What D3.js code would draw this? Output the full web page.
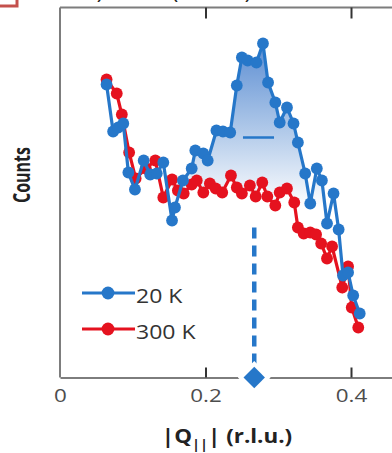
<!DOCTYPE html>
<html><head><meta charset="utf-8">
<script src="https://cdn.jsdelivr.net/npm/d3@7"></script>
<style>body{margin:0;background:#fff}svg{display:block}</style>
</head><body>
<svg id="chart" width="392" height="453"></svg>
<script>
// |Q_par| in r.l.u. and counts (arb. units) for the 20 K scan
const q20 = [0.064,0.073,0.080,0.087,0.094,0.103,0.115,0.124,0.133,0.142,0.154,0.158,0.169,0.181,0.186,0.197,0.203,0.215,0.224,0.234,0.243,0.250,0.258,0.270,0.279,0.286,0.296,0.302,0.312,0.321,0.327,0.337,0.344,0.353,0.360,0.367,0.376,0.383,0.389,0.396,0.403,0.412];
const c20 = [293,246,250,254,205,188,217,203,204,215,157,170,197,209,227,224,217,247,246,245,292,320,317,315,334,295,275,255,270,254,235,204,174,209,197,154,184,148,102,105,82,64];
// 300 K scan
const q300 = [0.064,0.078,0.085,0.095,0.104,0.118,0.131,0.142,0.154,0.162,0.170,0.181,0.188,0.197,0.206,0.214,0.223,0.235,0.243,0.250,0.261,0.269,0.278,0.285,0.296,0.302,0.312,0.322,0.327,0.335,0.344,0.352,0.359,0.367,0.374,0.388,0.396,0.401,0.410];
const c300 = [298,284,263,225,199,209,217,180,198,187,184,193,197,185,194,189,185,202,190,184,192,181,195,181,172,185,189,175,150,144,145,143,134,119,131,90,111,70,50];

const seriesNames = ["20 K", "300 K"];
const seriesColors = ["#2677c9", "#e5121f"];
const xTicks = [0, 0.2, 0.4];
const xTickLabels = ["0", "0.2", "0.4"];
const peakQ = 0.267;          // peak position (diamond + dashed line)
const peakLineTop = 150;      // counts where the dashed guide starts
const fwhmRange = [0.2515, 0.2942];
const fwhmLevel = 240;

const svg = d3.select("#chart");
const x = d3.scaleLinear().domain([0, 0.46]).range([60, 60 + 0.46 * 727.5]);
const y = d3.scaleLinear().domain([0, 370]).range([377.5, 7.5]);

const s20 = q20.map((q, i) => [q, c20[i]]);
const s300 = q300.map((q, i) => [q, c300[i]]);

// corner of neighbouring panel label box and the title line above the panel
svg.append("rect").attr("x", -20).attr("y", -20).attr("width", 37).attr("height", 26)
  .attr("fill", "none").attr("stroke", "#c4504c").attr("stroke-width", 3);
[[100, ")"], [175, "("], [248, ")"]].forEach(([px, t]) => {
  svg.append("text").attr("x", px).attr("y", -1).attr("font-family", "Open Sans")
    .attr("font-size", 22).attr("fill", "#222").attr("text-anchor", "middle").text(t);
});

// gradient between the two curves
const defs = svg.append("defs");
const grad = defs.append("linearGradient").attr("id", "gapFill")
  .attr("gradientUnits", "userSpaceOnUse").attr("x1", 0).attr("x2", 0)
  .attr("y1", y(335)).attr("y2", y(170));
grad.append("stop").attr("offset", 0).attr("stop-color", "#5b8dd2");
grad.append("stop").attr("offset", 0.55).attr("stop-color", "#b3cbea");
grad.append("stop").attr("offset", 1).attr("stop-color", "#ffffff");

const lo = 0.150, hi = 0.392;
const poly = s20.filter(d => d[0] >= lo && d[0] <= hi)
  .concat(s300.filter(d => d[0] >= lo && d[0] <= hi).reverse());
const line = d3.line().x(d => x(d[0])).y(d => y(d[1]));
svg.append("path").attr("d", line(poly) + "Z").attr("fill", "url(#gapFill)");

// frame
const frame = svg.append("g").attr("stroke", "#7d7d7d").attr("stroke-width", 2).attr("fill", "none");
frame.append("line").attr("x1", x(0)).attr("x2", x(0)).attr("y1", y(370)).attr("y2", y(0));
frame.append("line").attr("x1", x(0)).attr("x2", x(0.46)).attr("y1", y(370)).attr("y2", y(370));

const bottomAxis = svg.append("g").attr("transform", `translate(0,${y(0)})`)
  .call(d3.axisBottom(x).tickValues(xTicks).tickFormat((d, i) => xTickLabels[i]).tickSize(0).tickPadding(11));
bottomAxis.select(".domain").attr("stroke", "#7d7d7d").attr("stroke-width", 2);
bottomAxis.selectAll("text").attr("font-family", "Open Sans").attr("font-size", 19).attr("fill", "#4d4d4d")
  .attr("transform", "scale(1.18,1)");
bottomAxis.selectAll(".tick").each(function (d) {
  if (d > 0) d3.select(this).append("line").attr("y1", 0).attr("y2", -10)
    .attr("stroke", "#333").attr("stroke-width", 2);
});
const topAxis = svg.append("g").attr("transform", `translate(0,${y(370)})`)
  .call(d3.axisTop(x).tickValues([0.2, 0.4]).tickFormat("").tickSize(-11));
topAxis.select(".domain").remove();
topAxis.selectAll("line").attr("stroke", "#333").attr("stroke-width", 2);

// dashed peak guide and FWHM bar
svg.append("line").attr("x1", x(peakQ)).attr("x2", x(peakQ)).attr("y1", y(peakLineTop)).attr("y2", y(0) - 8)
  .attr("stroke", seriesColors[0]).attr("stroke-width", 4.5).attr("stroke-dasharray", "11,7");
svg.append("path").attr("d", d3.symbol(d3.symbolSquare, 230)())
  .attr("transform", `translate(${x(peakQ)},${y(0)}) rotate(45)`)
  .attr("fill", seriesColors[0]).attr("stroke", "#fff").attr("stroke-width", 8).attr("paint-order", "stroke");
svg.append("line").attr("x1", x(fwhmRange[0])).attr("x2", x(fwhmRange[1]))
  .attr("y1", y(fwhmLevel)).attr("y2", y(fwhmLevel))
  .attr("stroke", seriesColors[0]).attr("stroke-width", 2.5);

// data series: 300 K underneath, 20 K on top
[[s300, seriesColors[1]], [s20, seriesColors[0]]].forEach(([data, col]) => {
  svg.append("path").attr("d", line(data)).attr("fill", "none").attr("stroke", col).attr("stroke-width", 3.2);
  svg.append("g").selectAll("circle").data(data).join("circle")
    .attr("cx", d => x(d[0])).attr("cy", d => y(d[1])).attr("r", 5.9).attr("fill", col);
});

// legend
seriesNames.forEach((name, i) => {
  const ly = 293 + i * 36;
  const g = svg.append("g");
  g.append("line").attr("x1", 82).attr("x2", 135).attr("y1", ly).attr("y2", ly)
    .attr("stroke", seriesColors[i]).attr("stroke-width", 3);
  g.append("circle").attr("cx", 108).attr("cy", ly).attr("r", 6.4).attr("fill", seriesColors[i]);
  g.append("text").attr("transform", `translate(136,${ly + 10}) scale(1.18,1)`)
    .attr("font-family", "Open Sans").attr("font-size", 19.5).attr("fill", "#333").text(name);
});

// axis titles
const xt = svg.append("text").attr("transform", "translate(227,443) scale(1.12,1)")
  .attr("text-anchor", "middle").attr("font-family", "Open Sans").attr("font-weight", 700)
  .attr("font-size", 20).attr("fill", "#222");
xt.append("tspan").text("|Q");
xt.append("tspan").attr("font-size", 13).attr("dy", 6).text("||");
xt.append("tspan").attr("dy", -6).text("| (r.l.u.)");

svg.append("text").attr("transform", "translate(30,175) rotate(-90) scale(1,1.4)")
  .attr("text-anchor", "middle").attr("font-family", "Open Sans").attr("font-weight", 700)
  .attr("font-size", 16).attr("fill", "#222").text("Counts");
</script>
</body></html>
